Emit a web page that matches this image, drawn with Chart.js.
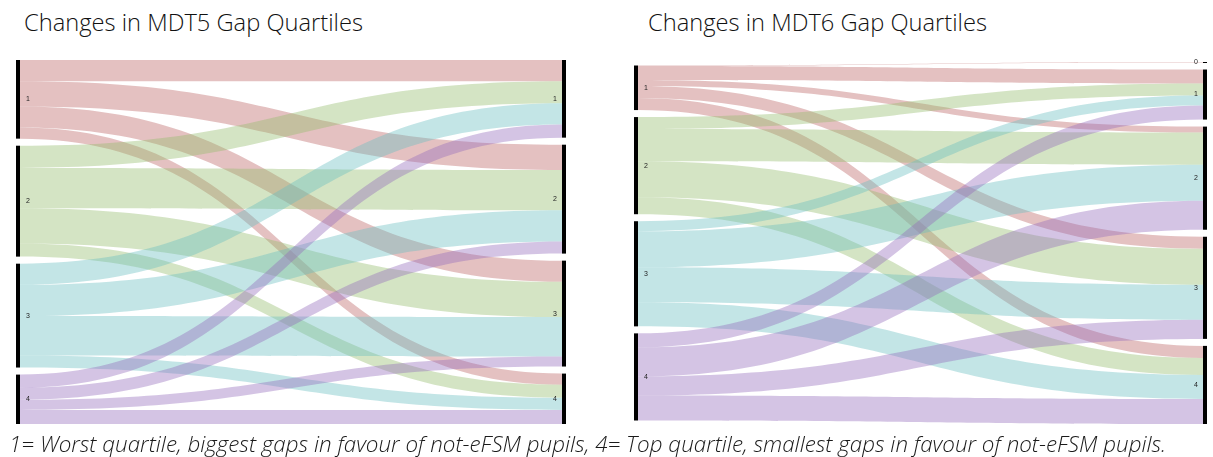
<!DOCTYPE html>
<html>
<head>
<meta charset="utf-8">
<script src="https://cdn.jsdelivr.net/npm/chart.js@4.4.0/dist/chart.umd.min.js"></script>
<style>
  body { margin: 0; width: 1213px; height: 457px; background: #fff; position: relative; overflow: hidden; font-family: "Open Sans", Lato, sans-serif; }
  .title { position: absolute; top: 6px; font-size: 23.7px; font-weight: 300; color: #111; white-space: nowrap; }
  #caption { position: absolute; left: 9px; top: 428px; font-size: 22.4px; font-style: italic; font-weight: 300; color: #1a1a1a; white-space: nowrap; }
  canvas { position: absolute; top: 0; }
</style>
</head>
<body>
<div class="title" style="left:24px">Changes in MDT5 Gap Quartiles</div>
<div class="title" style="left:648px">Changes in MDT6 Gap Quartiles</div>
<canvas id="mdt5" width="600" height="457" style="left:0"></canvas>
<canvas id="mdt6" width="593" height="457" style="left:620px"></canvas>
<div id="caption">1= Worst quartile, biggest gaps in favour of not-eFSM pupils, 4= Top quartile, smallest gaps in favour of not-eFSM pupils.</div>
<script>
"use strict";

// quartile at the start (left) and at the end (right)
const quartiles = ['1', '2', '3', '4'];
const mdt6Targets = ['0', '1', '2', '3', '4'];

// flows: one row per starting quartile, one value per ending quartile
const mdt5Flows = [
  [21, 25, 21, 11],
  [22, 40, 35, 13],
  [21, 31, 39, 12],
  [13, 12, 10, 14]
];
const mdt6Flows = [
  [0.5, 14, 6, 12, 12],
  [0, 12, 32, 36, 17],
  [0, 10, 36, 35, 24],
  [0, 14, 29, 19, 25]
];

const flowColors = ['rgba(187,100,100,0.4)', 'rgba(148,187,107,0.4)', 'rgba(105,190,192,0.4)', 'rgba(148,107,187,0.4)'];
const nodeGap = 7;
const nodeW = 4;

const sum = a => a.reduce((s, v) => s + v, 0);

// stack the nodes of each column, centred on the taller one
function layout(sources, targets, flows) {
  const outTot = flows.map(r => sum(r));
  const inTot = targets.map((_, j) => sum(flows.map(r => r[j])));
  const hL = sum(outTot) + nodeGap * (sources.length - 1);
  const hR = sum(inTot) + nodeGap * (targets.length - 1);
  const H = Math.max(hL, hR);
  const stack = (tots, h) => {
    let y = (H - h) / 2;
    return tots.map(t => { const n = { y0: y, y1: y + t }; y += t + nodeGap; return n; });
  };
  return { H, left: stack(outTot, hL), right: stack(inTot, hR) };
}

const sankeyPlugin = {
  id: 'sankey',
  afterDatasetsDraw(chart, args, opts) {
    const { ctx, scales: { x, y } } = chart;
    const { sources, targets, flows, lay } = opts;
    const x0 = x.getPixelForValue(0) + nodeW;
    const x1 = x.getPixelForValue(1) - nodeW;
    const xm = (x0 + x1) / 2;

    // offsets inside each node
    const outOff = lay.left.map(n => n.y0);
    const inOff = lay.right.map(n => n.y0);
    ctx.save();
    flows.forEach((row, i) => {
      row.forEach((v, j) => {
        if (!v) return;
        const a0 = y.getPixelForValue(outOff[i]), a1 = y.getPixelForValue(outOff[i] + v);
        const b0 = y.getPixelForValue(inOff[j]), b1 = y.getPixelForValue(inOff[j] + v);
        outOff[i] += v;
        inOff[j] += v;
        ctx.fillStyle = flowColors[i];
        ctx.beginPath();
        ctx.moveTo(x0, a0);
        ctx.bezierCurveTo(xm, a0, xm, b0, x1, b0);
        ctx.lineTo(x1, b1);
        ctx.bezierCurveTo(xm, b1, xm, a1, x0, a1);
        ctx.closePath();
        ctx.fill();
      });
    });

    // node bars and labels
    ctx.font = '7px "Liberation Sans", Arial, sans-serif';
    ctx.textBaseline = 'middle';
    lay.left.forEach((n, i) => {
      const t = y.getPixelForValue(n.y0), b = y.getPixelForValue(n.y1);
      ctx.fillStyle = '#000';
      ctx.fillRect(x0 - nodeW, t, nodeW, Math.max(1, b - t));
      ctx.fillStyle = '#222';
      ctx.textAlign = 'left';
      ctx.fillText(sources[i], x0 + 6, (t + b) / 2);
    });
    lay.right.forEach((n, j) => {
      const t = y.getPixelForValue(n.y0), b = y.getPixelForValue(n.y1);
      ctx.fillStyle = '#000';
      ctx.fillRect(x1, t, nodeW, Math.max(1, b - t));
      ctx.fillStyle = '#222';
      ctx.textAlign = 'right';
      ctx.fillText(targets[j], x1 - 5, (t + b) / 2);
    });
    ctx.restore();
  }
};

function makeSankey(id, sources, targets, flows, padding) {
  const lay = layout(sources, targets, flows);
  return new Chart(document.getElementById(id), {
    type: 'scatter',
    data: { datasets: [] },
    options: {
      responsive: false,
      animation: false,
      layout: { padding: padding },
      scales: {
        x: { type: 'linear', min: 0, max: 1, display: false },
        y: { type: 'linear', min: 0, max: lay.H, reverse: true, display: false }
      },
      plugins: {
        legend: { display: false },
        tooltip: { enabled: false },
        sankey: { sources, targets, flows, lay }
      }
    },
    plugins: [sankeyPlugin]
  });
}

makeSankey('mdt5', quartiles, quartiles, mdt5Flows, { left: 16, right: 34, top: 60, bottom: 33 });
makeSankey('mdt6', quartiles, mdt6Targets, mdt6Flows, { left: 14, right: 6, top: 62, bottom: 33 });
</script>
</body>
</html>
